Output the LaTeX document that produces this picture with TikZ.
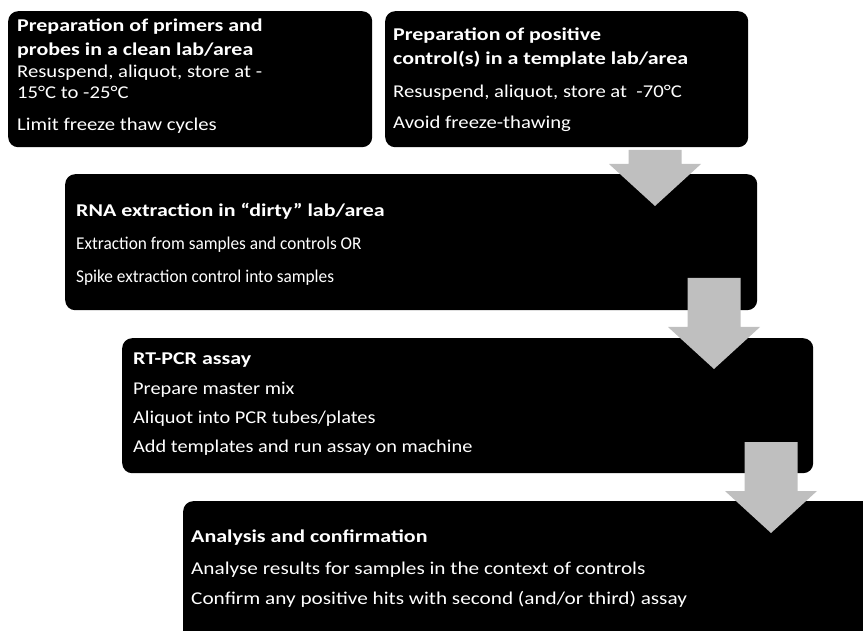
\documentclass[tikz,border=0pt]{standalone}
\usepackage{fontspec}
\setmainfont{Carlito}
\newfontfamily\stagefont[FakeStretch=1.15]{Carlito}
\newfontfamily\stagetitlefont[FakeStretch=1.22]{Carlito}
\newfontfamily\rnafont[FakeStretch=0.96]{Carlito}
\newfontfamily\pcrfont[FakeStretch=1.13]{Carlito}
\newfontfamily\analysisfont[FakeStretch=1.18]{Carlito}
\usetikzlibrary{positioning}
\definecolor{arrowgrey}{RGB}{191,191,191}

\tikzset{
  stage/.style={fill=black, rounded corners=10pt, anchor=north west, inner sep=0pt},
  stagetext/.style={text=white, align=left, anchor=north west, inner sep=0pt,
    font={\stagefont\fontsize{18}{21}\selectfont}},
  flow/.style={fill=arrowgrey}
}
\newcommand\stagetitle[1]{{\stagetitlefont\bfseries #1}}
% grey block arrow pointing down: name, tip, length
\newcommand\downflow[4]{%
  \coordinate (#1) at (#2,#3);
  \fill[flow] (#1) -- ++(-46,-42) -- ++(19.5,0) -- ++(0,{-(#4-42)}) -- ++(53,0)
    -- ++(0,{#4-42}) -- ++(19.5,0) -- cycle;}

\begin{document}
\begin{tikzpicture}[x=1pt,y=-1pt]
\useasboundingbox (0,0) rectangle (863,631);
\clip (0,0) rectangle (863,631);

% boxes
\node[stage, minimum width=364pt, minimum height=136pt] (primers) at (8,11) {};
\node[stage, minimum width=363pt, minimum height=136pt] (positive) at (385,11) {};
\node[stage, minimum width=692pt, minimum height=136pt] (rna) at (65,174) {};
\node[stage, minimum width=691pt, minimum height=135pt] (pcr) at (122,338) {};
\node[stage, minimum width=720pt, minimum height=160pt] (analysis) at (183,501) {};

% texts
\node[stagetext] (primerstext) at ([shift={(9,5.3)}]primers.north west)
  {\strut\stagetitle{Preparation of primers and}\\[3pt]
   \stagetitle{probes in a clean lab/area}\\[1pt]
   Resuspend, aliquot, store at -\\
   15°C to -25°C\\[11pt]
   Limit freeze thaw cycles};
\node[stagetext] (positivetext) at ([shift={(8,14.3)}]positive.north west)
  {\strut\stagetitle{Preparation of positive}\\[3pt]
   \stagetitle{control(s) in a template lab/area}\\[12pt]
   Resuspend, aliquot, store at ~-70°C\\[10.5pt]
   Avoid freeze-thawing};
\node[stagetext] (rnatext) at ([shift={(11,27.3)}]rna.north west)
  {\strut\stagetitle{RNA extraction in “dirty” lab/area}\\[12pt]
   {\rnafont Extraction from samples and controls OR}\\[12pt]
   {\rnafont Spike extraction control into samples}};
\node[stagetext] (pcrtext) at ([shift={(11,11.3)}]pcr.north west)
  {\strut\stagetitle{RT-PCR assay}\\[9pt]
   {\pcrfont Prepare master mix}\\[8pt]
   {\pcrfont Aliquot into PCR tubes/plates}\\[8pt]
   {\pcrfont Add templates and run assay on machine}};
\node[stagetext] (analysistext) at ([shift={(8,26.3)}]analysis.north west)
  {\strut\stagetitle{Analysis and confirmation}\\[11pt]
   {\analysisfont Analyse results for samples in the context of controls}\\[9pt]
   {\analysisfont Confirm any positive hits with second (and/or third) assay}};

% arrows
\downflow{step1}{655}{206}{56}
\downflow{step2}{714}{369}{91}
\downflow{step3}{771}{533}{91}
\end{tikzpicture}
\end{document}
